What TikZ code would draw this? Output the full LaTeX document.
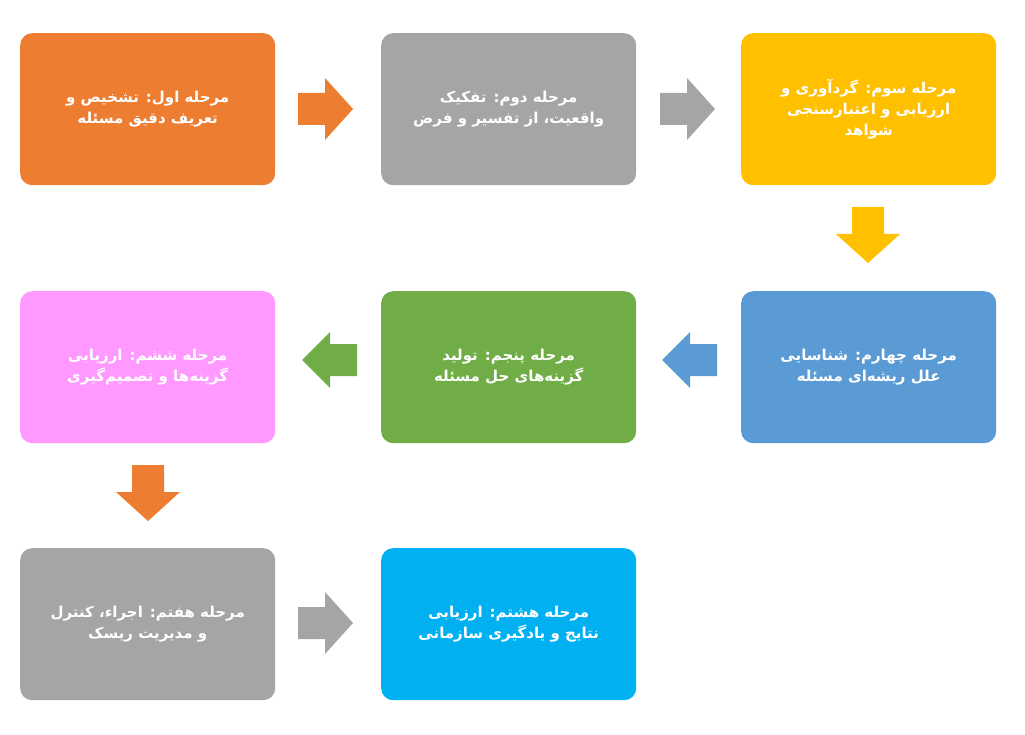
\documentclass[tikz,border=0pt]{standalone}
\usepackage{fontspec}
\newfontfamily\farsi[Script=Arabic]{DejaVu Sans}
\TeXXeTstate=1
\newcommand{\fa}[1]{\beginR #1\endR}
\begin{document}
\begin{tikzpicture}[x=1pt,y=-1pt,
  box/.style={fill=#1,rounded corners=12pt,minimum width=255pt,minimum height=152pt,anchor=north west,
    text=white,font=\farsi\bfseries\fontsize{15}{21}\selectfont,align=center,inner sep=0pt},
  ]
\useasboundingbox (0,0) rectangle (1025,735);
\definecolor{c1}{HTML}{ED7D31}\definecolor{c2}{HTML}{A5A5A5}\definecolor{c3}{HTML}{FFC000}
\definecolor{c4}{HTML}{5B9BD5}\definecolor{c5}{HTML}{70AD47}\definecolor{c6}{HTML}{FF99FF}
\definecolor{c8}{HTML}{00B0F0}
\node[box=c1] (b1) at (20,33) {\fa{مرحله اول: تشخیص و}\\\fa{تعریف دقیق مسئله}};
\node[box=c2] (b2) at (381,33) {\fa{مرحله دوم: تفکیک}\\\fa{واقعیت، از تفسیر و فرض}};
\node[box=c3] (b3) at (741,33) {\fa{مرحله سوم: گردآوری و}\\\fa{ارزیابی و اعتبارسنجی}\\\fa{شواهد}};
\node[box=c4] (b4) at (741,291) {\fa{مرحله چهارم: شناسایی}\\\fa{علل ریشه‌ای مسئله}};
\node[box=c5] (b5) at (381,291) {\fa{مرحله پنجم: تولید}\\\fa{گزینه‌های حل مسئله}};
\node[box=c6] (b6) at (20,291) {\fa{مرحله ششم: ارزیابی}\\\fa{گزینه‌ها و تصمیم‌گیری}};
\node[box=c2] (b7) at (20,548) {\fa{مرحله هفتم: اجراء، کنترل}\\\fa{و مدیریت ریسک}};
\node[box=c8] (b8) at (381,548) {\fa{مرحله هشتم: ارزیابی}\\\fa{نتایج و یادگیری سازمانی}};
% right arrows: (x,ycenter)
\foreach \x/\y/\c in {298/109/c1, 660/109/c2, 298/623/c2}
  \fill[\c] (\x,\y-16) -- (\x+27,\y-16) -- (\x+27,\y-31) -- (\x+55,\y) -- (\x+27,\y+31) -- (\x+27,\y+16) -- (\x,\y+16) -- cycle;
% left arrows
\foreach \x/\y/\c in {717/360/c4, 357/360/c5}
  \fill[\c] (\x,\y-16) -- (\x-27,\y-16) -- (\x-27,\y-28) -- (\x-55,\y) -- (\x-27,\y+28) -- (\x-27,\y+16) -- (\x,\y+16) -- cycle;
% down arrows
\foreach \x/\y/\c in {868/207/c3, 148/465/c1}
  \fill[\c] (\x-16,\y) -- (\x+16,\y) -- (\x+16,\y+27) -- (\x+32,\y+27) -- (\x,\y+56) -- (\x-32,\y+27) -- (\x-16,\y+27) -- cycle;
\end{tikzpicture}
\end{document}
